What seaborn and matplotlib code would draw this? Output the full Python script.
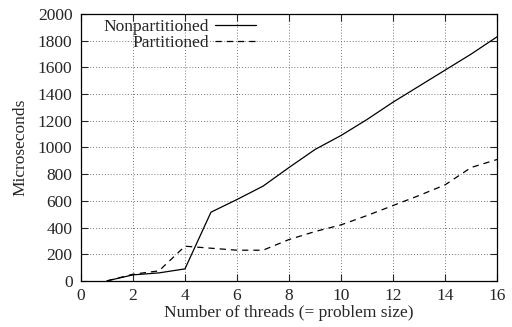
import matplotlib
matplotlib.use("Agg")
import matplotlib.pyplot as plt
import seaborn as sns
import pandas as pd

threads = [1, 2, 3, 4, 5, 6, 7, 8, 9, 10, 11, 12, 13, 14, 15, 16]
nonpartitioned = [0, 45, 60, 90, 515, 610, 710, 850, 985, 1090, 1210, 1340, 1460, 1580, 1700, 1830]
partitioned = [0, 50, 75, 260, 245, 230, 230, 310, 370, 420, 490, 565, 640, 720, 850, 910]
xticks = [0, 2, 4, 6, 8, 10, 12, 14, 16]
yticks = [0, 200, 400, 600, 800, 1000, 1200, 1400, 1600, 1800, 2000]

sns.set_style("ticks")
plt.rcParams['font.family'] = ['Liberation Serif', 'DejaVu Serif']
fs = 12.5
plt.rcParams['font.size'] = fs

df = pd.DataFrame({"threads": threads * 2,
                   "us": nonpartitioned + partitioned,
                   "series": ["Nonpartitioned"] * len(threads) + ["Partitioned"] * len(threads)})

fig = plt.figure(figsize=(5.12, 3.27), dpi=100)
ax = fig.add_axes([0.158, 0.141, 0.813, 0.816])
sns.lineplot(data=df, x="threads", y="us", style="series", color="black",
             dashes={"Nonpartitioned": "", "Partitioned": (5, 4)}, linewidth=0.9, ax=ax)
ax.set_xlim(0, 16)
ax.set_ylim(0, 2000)
ax.set_xticks(xticks)
ax.set_yticks(yticks)
ax.grid(True, linestyle=(0, (1, 2)), color="#777777", linewidth=0.7)
ax.tick_params(direction="in", top=True, right=True, length=5, labelsize=fs)
ax.tick_params(axis="y", pad=6)
ax.tick_params(axis="x", pad=5)
for s in ax.spines.values():
    s.set_linewidth(0.9)
    s.set_color("black")
ax.set_xlabel("Number of threads (= problem size)", fontsize=fs, labelpad=1)
ax.set_ylabel("Microseconds", fontsize=fs, labelpad=7)
leg = ax.legend(loc="upper right", bbox_to_anchor=(0.432, 1.0), frameon=False, markerfirst=False,
                handlelength=2.35, labelspacing=0.0, borderaxespad=0.0, borderpad=0.28,
                handletextpad=0.35, fontsize=fs)
for t in leg.get_texts():
    t.set_ha("right")
fig.savefig("out.png", dpi=100)
